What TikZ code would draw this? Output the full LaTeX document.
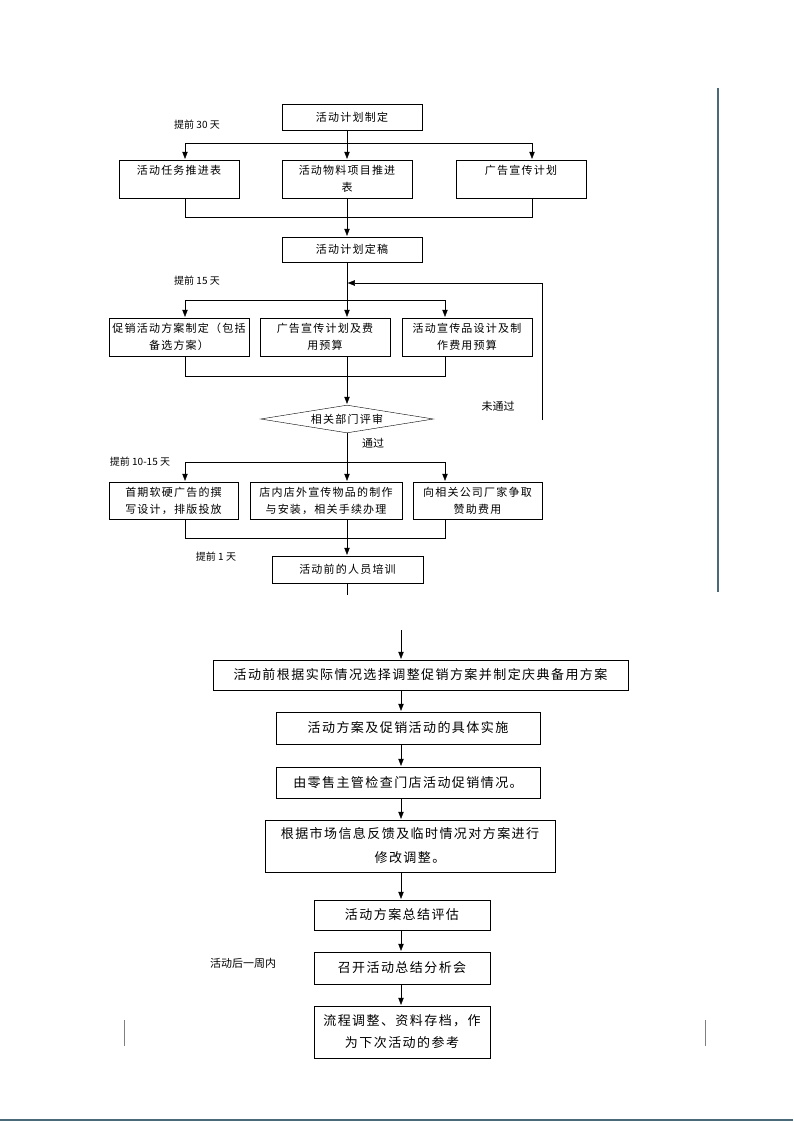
\documentclass[tikz,border=0pt]{standalone}
\usepackage{fontspec}
\setmainfont{Noto Sans CJK SC}
\newfontfamily\spaced[LetterSpace=11]{Noto Sans CJK SC}
\usetikzlibrary{arrows.meta,positioning,shapes.geometric}
\definecolor{pageline}{RGB}{74,106,122}

\begin{document}
\begin{tikzpicture}[x=1pt,y=-1pt]
  \tikzset{
    >={Triangle[length=8pt,width=6pt]},
    line width=0.9pt,
    box/.style={draw,rectangle,inner sep=1pt,align=center,font=\spaced\fontsize{11}{17}\selectfont},
    bigbox/.style={box,font=\spaced\fontsize{13}{22}\selectfont},
    check/.style={draw,diamond,aspect=6,inner sep=0pt,minimum width=173pt,minimum height=28pt,font=\spaced\fontsize{11}{13}\selectfont},
    tag/.style={font=\fontsize{10}{12}\selectfont},
    note/.style={font=\fontsize{11}{13}\selectfont},
  }
  \useasboundingbox (0,0) rectangle (793,1122);

  % before the event
  \node [box,minimum width=140pt,minimum height=26pt] (plan)    at (352,117)   {活动计划制定};
  \node [tag]                                         (d30)     at (197,125)   {提前 30 天};
  \node [box,minimum width=120pt,minimum height=38pt,text height=9pt,text depth=19pt] (tasks) at (179,179) {活动任务推进表};
  \node [box,minimum width=130pt,minimum height=38pt] (items)   at (347,179)   {活动物料项目推进\\表};
  \node [box,minimum width=130pt,minimum height=38pt,text height=9pt,text depth=19pt] (adplan) at (521,179) {广告宣传计划};
  \node [box,minimum width=140pt,minimum height=25pt] (final)   at (352,249.5) {活动计划定稿};
  \node [tag]                                         (d15)     at (197,281)   {提前 15 天};
  \node [box,minimum width=140pt,minimum height=38pt] (promo)   at (179,337)   {促销活动方案制定（包括\\备选方案）};
  \node [box,minimum width=130pt,minimum height=38pt] (budget)  at (325,337)   {广告宣传计划及费\\用预算};
  \node [box,minimum width=130pt,minimum height=38pt] (design)  at (467,337)   {活动宣传品设计及制\\作费用预算};
  \node [check]                                       (review)  at (347,419)   {相关部门评审};
  \node [note]                                        (fail)    at (498,406)   {未通过};
  \node [note]                                        (pass)    at (373,443)   {通过};
  \node [tag]                                         (d10)     at (140,462)   {提前 10-15 天};
  \node [box,minimum width=129pt,minimum height=37pt] (print)   at (173.5,500.5) {首期软硬广告的撰\\写设计，排版投放};
  \node [box,minimum width=152pt,minimum height=37pt] (install) at (326,500.5)   {店内店外宣传物品的制作\\与安装，相关手续办理};
  \node [box,minimum width=129pt,minimum height=37pt] (sponsor) at (477.5,500.5) {向相关公司厂家争取\\赞助费用};
  \node [tag]                                         (d1)      at (216,557)   {提前 1 天};
  \node [box,minimum width=151pt,minimum height=27pt] (train)   at (347.5,569.5) {活动前的人员培训};

  \coordinate (c0) at (347,143);
  \coordinate (l1) at (185,143);
  \coordinate (r1) at (532,143);
  \coordinate (l2) at (185,217);
  \coordinate (r2) at (532,217);
  \coordinate (l3) at (185,300);
  \coordinate (r3) at (445,300);
  \coordinate (l4) at (185,376);
  \coordinate (r4) at (445,376);
  \coordinate (l5) at (185,462);
  \coordinate (r5) at (445,462);
  \coordinate (l6) at (185,538);
  \coordinate (r6) at (445,538);
  \coordinate (m1) at (347,283);
  \coordinate (fb) at (542,420);
  \coordinate (t0) at (347,595);

  \draw (c0 |- plan.south) -- (c0);
  \draw (l1) -- (r1);
  \draw [->] (l1) -- (l1 |- tasks.north);
  \draw [->] (c0) -- (items.north);
  \draw [->] (r1) -- (r1 |- adplan.north);
  \draw (l2 |- tasks.south) -- (l2) -- (r2) -- (r2 |- adplan.south);
  \draw [->] (items.south) -- (c0 |- final.north);
  \draw [->] (fb) |- (m1);
  \draw (l3) -- (r3);
  \draw [->] (l3) -- (l3 |- promo.north);
  \draw [->] (c0 |- final.south) -- (c0 |- budget.north);
  \draw [->] (r3) -- (r3 |- design.north);
  \draw (l4 |- promo.south) -- (l4) -- (r4) -- (r4 |- design.south);
  \draw [->] (c0 |- budget.south) -- (review.north);
  \draw (l5) -- (r5);
  \draw [->] (l5) -- (l5 |- print.north);
  \draw [->] (review.south) -- (c0 |- install.north);
  \draw [->] (r5) -- (r5 |- sponsor.north);
  \draw (l6 |- print.south) -- (l6) -- (r6) -- (r6 |- sponsor.south);
  \draw [->] (c0 |- install.south) -- (c0 |- train.north);
  \draw (c0 |- train.south) -- (t0);

  % on the day and after
  \node [bigbox,minimum width=415pt,minimum height=30pt] (adjust)  at (420.5,675) {活动前根据实际情况选择调整促销方案并制定庆典备用方案};
  \node [bigbox,minimum width=264pt,minimum height=32pt] (run)     at (408,728)   {活动方案及促销活动的具体实施};
  \node [bigbox,minimum width=264pt,minimum height=31pt] (inspect) at (408,782.5) {由零售主管检查门店活动促销情况。};
  \node [bigbox,minimum width=290pt,minimum height=52pt,font=\spaced\fontsize{13}{24}\selectfont] (revise) at (410,846) {根据市场信息反馈及临时情况对方案进行\\修改调整。};
  \node [bigbox,minimum width=176pt,minimum height=30pt] (assess)  at (402,915)   {活动方案总结评估};
  \node [bigbox,minimum width=176pt,minimum height=32pt] (meeting) at (402,968)   {召开活动总结分析会};
  \node [note]                                           (week)    at (243,963)   {活动后一周内};
  \node [bigbox,minimum width=176pt,minimum height=52pt] (archive) at (402,1032)  {流程调整、资料存档，作\\为下次活动的参考};

  \coordinate (k0) at (401,630);
  \draw [->] (k0) -- (k0 |- adjust.north);
  \draw [->] (k0 |- adjust.south) -- (k0 |- run.north);
  \draw [->] (k0 |- run.south) -- (k0 |- inspect.north);
  \draw [->] (k0 |- inspect.south) -- (k0 |- revise.north);
  \draw [->] (k0 |- revise.south) -- (k0 |- assess.north);
  \draw [->] (k0 |- assess.south) -- (k0 |- meeting.north);
  \draw [->] (k0 |- meeting.south) -- (k0 |- archive.north);

  % page marks
  \draw [pageline,line width=1.5pt] (718,88) -- (718,592);
  \draw [gray,line width=0.6pt] (124,1020) -- (124,1046);
  \draw [gray,line width=0.6pt] (705,1020) -- (705,1046);
  \draw [pageline,line width=2pt] (0,1120) -- (793,1120);
\end{tikzpicture}
\end{document}
